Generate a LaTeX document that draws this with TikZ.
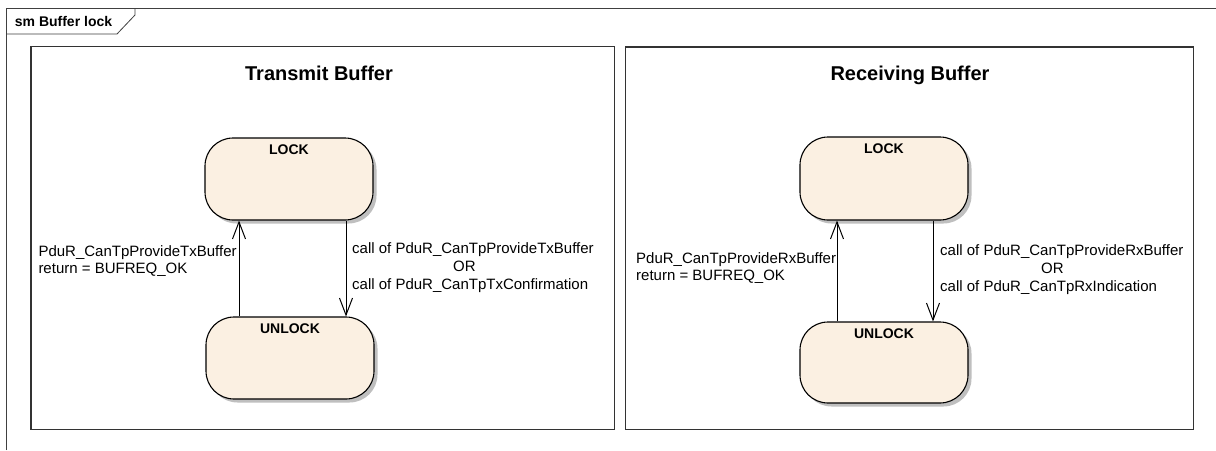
\documentclass[tikz,border=0pt]{standalone}
\usepackage{fontspec}
\setmainfont{Liberation Sans}
\usetikzlibrary{arrows.meta,shadows,calc}
\definecolor{statefill}{HTML}{FBF0E2}
\tikzset{
  frameline/.style={draw=black!75, line width=0.8pt},
  panel/.style={draw=black!80, line width=1.4pt},
  stbox/.style={draw=black, line width=1.1pt, fill=statefill, rounded corners=28pt,
     minimum width=168pt, inner sep=0pt,
     drop shadow={shadow xshift=3.5pt, shadow yshift=-3.5pt, fill=black!25, opacity=1}},
  stname/.style={anchor=north, inner sep=0pt, yshift=-7pt, font=\bfseries\fontsize{14}{16}\selectfont},
  trans/.style={draw=black, line width=1pt, -{Straight Barb[length=17pt,width=13pt,line width=1pt]}},
  lbl/.style={anchor=base west, inner sep=0pt, font=\fontsize{15}{18}\selectfont},
  ttl/.style={anchor=base, inner sep=0pt, font=\bfseries\fontsize{20}{24}\selectfont},
}
\begin{document}
\begin{tikzpicture}[x=1pt,y=-1pt]
\useasboundingbox (0,0) rectangle (1216,450);
\fill[white] (0,0) rectangle (1216,450);
% outer frame and tab
\draw[frameline] (6.7,450) -- (6.7,8.5) -- (1216,8.5);
\draw[frameline] (6.7,34) -- (117,34) -- (135,15) -- (135,8.5);
\node[anchor=base west, inner sep=0pt, font=\bfseries\fontsize{14}{16}\selectfont] (frametitle) at (14.7,26) {sm Buffer lock};
% panels
\draw[panel] (31,46.5) rectangle (614.5,429.3);
\draw[panel] (625.3,47) rectangle (1193.7,429.3);
\node[ttl] (ttlT) at (319,80) {Transmit Buffer};
\node[ttl] (ttlR) at (910,80) {Receiving Buffer};
% states left
\node[stbox, minimum height=82pt, label={[stname]north:LOCK}] (lockT) at (289,179) {};
\node[stbox, minimum height=82pt, label={[stname]north:UNLOCK}] (unlockT) at (290,358) {};
% states right
\node[stbox, minimum height=83pt, label={[stname]north:LOCK}] (lockR) at (884,178.5) {};
\node[stbox, minimum height=81pt, label={[stname]north:UNLOCK}] (unlockR) at (884,362.5) {};
% arrow columns
\coordinate (aT) at (239,0);
\coordinate (bT) at (346,0);
\coordinate (aR) at (837,0);
\coordinate (bR) at (933,0);
\draw[trans] (unlockT.north -| aT) -- (lockT.south -| aT);
\draw[trans] (lockT.south -| bT) -- (unlockT.north -| bT);
\draw[trans] (unlockR.north -| aR) -- (lockR.south -| aR);
\draw[trans] (lockR.south -| bR) -- (unlockR.north -| bR);
% labels left
\node[lbl] (gT1) at (38.3,256) {PduR\_CanTpProvideTxBuffer};
\node[lbl] (gT2) at (38.3,273) {return = BUFREQ\_OK};
\node[lbl] (cT1) at (352,253) {call of PduR\_CanTpProvideTxBuffer};
\node[lbl] (cT2) at (453,271) {OR};
\node[lbl] (cT3) at (352,289) {call of PduR\_CanTpTxConfirmation};
% labels right
\node[lbl] (gR1) at (636,263) {PduR\_CanTpProvideRxBuffer};
\node[lbl] (gR2) at (636,280) {return = BUFREQ\_OK};
\node[lbl] (cR1) at (940,255) {call of PduR\_CanTpProvideRxBuffer};
\node[lbl] (cR2) at (1041,273) {OR};
\node[lbl] (cR3) at (940,291) {call of PduR\_CanTpRxIndication};
\end{tikzpicture}
\end{document}
